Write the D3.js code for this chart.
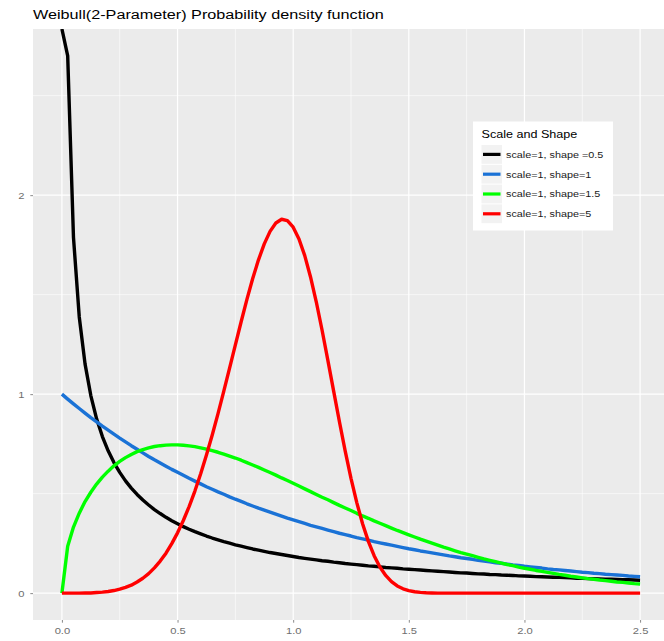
<!DOCTYPE html>
<html>
<head>
<meta charset="utf-8">
<script src="https://cdn.jsdelivr.net/npm/d3@7"></script>
<style>
  html, body { margin: 0; padding: 0; background: #ffffff; }
  svg { display: block; }
  text { font-family: "Liberation Sans", Arial, Helvetica, sans-serif; }
</style>
</head>
<body>
<svg id="chart" width="664" height="641"></svg>
<script>
// Sampling grid (x) and Weibull densities, scale = 1
const xs = [0,0.025,0.05,0.075,0.1,0.125,0.15,0.175,0.2,0.225,0.25,0.275,0.3,0.325,0.35,0.375,0.4,0.425,0.45,0.475,
  0.5,0.525,0.55,0.575,0.6,0.625,0.65,0.675,0.7,0.725,0.75,0.775,0.8,0.825,0.85,0.875,0.9,0.925,0.95,0.975,
  1,1.025,1.05,1.075,1.1,1.125,1.15,1.175,1.2,1.225,1.25,1.275,1.3,1.325,1.35,1.375,1.4,1.425,1.45,1.475,
  1.5,1.525,1.55,1.575,1.6,1.625,1.65,1.675,1.7,1.725,1.75,1.775,1.8,1.825,1.85,1.875,1.9,1.925,1.95,1.975,
  2,2.025,2.05,2.075,2.1,2.125,2.15,2.175,2.2,2.225,2.25,2.275,2.3,2.325,2.35,2.375,2.4,2.425,2.45,2.475,2.5];

// shape = 0.5 (density is unbounded at x = 0)
const shape05 = [Infinity,2.700,1.788,1.388,1.152,0.993,0.876,0.787,0.715,0.656,0.607,0.564,0.528,0.496,0.468,0.443,0.420,0.400,0.381,0.364,
  0.349,0.334,0.321,0.309,0.298,0.287,0.277,0.268,0.259,0.251,0.243,0.236,0.229,0.222,0.216,0.210,0.204,0.199,0.194,0.189,
  0.184,0.179,0.175,0.171,0.167,0.163,0.160,0.156,0.153,0.149,0.146,0.143,0.140,0.137,0.135,0.132,0.129,0.127,0.125,0.122,
  0.120,0.118,0.116,0.114,0.112,0.110,0.108,0.106,0.104,0.102,0.101,0.099,0.097,0.096,0.094,0.093,0.091,0.090,0.089,0.087,
  0.086,0.085,0.083,0.082,0.081,0.080,0.079,0.078,0.077,0.075,0.074,0.073,0.072,0.071,0.070,0.070,0.069,0.068,0.067,0.066,0.065];

// shape = 1
const shape1 = [1.000,0.975,0.951,0.928,0.905,0.882,0.861,0.839,0.819,0.799,0.779,0.760,0.741,0.723,0.705,0.687,0.670,0.654,0.638,0.622,
  0.607,0.592,0.577,0.563,0.549,0.535,0.522,0.509,0.497,0.484,0.472,0.461,0.449,0.438,0.427,0.417,0.407,0.397,0.387,0.377,
  0.368,0.359,0.350,0.341,0.333,0.325,0.317,0.309,0.301,0.294,0.287,0.279,0.273,0.266,0.259,0.253,0.247,0.241,0.235,0.229,
  0.223,0.218,0.212,0.207,0.202,0.197,0.192,0.187,0.183,0.178,0.174,0.170,0.165,0.161,0.157,0.153,0.150,0.146,0.142,0.139,
  0.135,0.132,0.129,0.126,0.122,0.119,0.117,0.114,0.111,0.108,0.105,0.103,0.100,0.098,0.095,0.093,0.091,0.089,0.086,0.084,0.082];

// shape = 1.5
const shape15 = [0,0.236,0.332,0.402,0.460,0.507,0.548,0.583,0.613,0.640,0.662,0.681,0.697,0.711,0.721,0.730,0.737,0.741,0.744,0.745,
  0.745,0.743,0.740,0.736,0.730,0.724,0.716,0.708,0.699,0.689,0.679,0.668,0.656,0.644,0.632,0.619,0.606,0.593,0.579,0.566,
  0.552,0.538,0.524,0.510,0.496,0.482,0.469,0.455,0.441,0.428,0.415,0.401,0.388,0.376,0.363,0.351,0.339,0.327,0.315,0.304,
  0.293,0.282,0.271,0.261,0.251,0.241,0.231,0.222,0.213,0.204,0.196,0.188,0.180,0.172,0.165,0.158,0.151,0.144,0.138,0.131,
  0.125,0.120,0.114,0.109,0.104,0.099,0.094,0.090,0.085,0.081,0.077,0.073,0.070,0.066,0.063,0.060,0.056,0.054,0.051,0.048,0.046];

// shape = 5
const shape5 = [0,0.000,0.000,0.000,0.001,0.001,0.003,0.005,0.008,0.013,0.020,0.029,0.040,0.056,0.075,0.098,0.127,0.161,0.201,0.249,
  0.303,0.365,0.435,0.513,0.600,0.694,0.795,0.902,1.015,1.131,1.248,1.364,1.476,1.581,1.675,1.755,1.818,1.860,1.879,1.872,
  1.839,1.780,1.696,1.589,1.463,1.321,1.170,1.015,0.861,0.714,0.577,0.455,0.349,0.260,0.188,0.131,0.089,0.058,0.036,0.022,
  0.013,0.007,0.004,0.002,0.001,0.000,0.000,0.000,0.000,0.000,0.000,0.000,0.000,0.000,0.000,0.000,0.000,0.000,0.000,0.000,
  0.000,0.000,0.000,0.000,0.000,0.000,0.000,0.000,0.000,0.000,0.000,0.000,0.000,0.000,0.000,0.000,0.000,0.000,0.000,0.000,0.000];

const seriesLabels = ["scale=1, shape =0.5", "scale=1, shape=1", "scale=1, shape=1.5", "scale=1, shape=5"];
const seriesColors = ["#000000", "#1a72d6", "#00ff00", "#ff0000"];
const seriesValues = [shape05, shape1, shape15, shape5];

const xTicks = [0, 0.5, 1, 1.5, 2, 2.5];
const xMinor = [0.25, 0.75, 1.25, 1.75, 2.25];
const yTicks = [0, 1, 2];
const yMinor = [0.5, 1.5, 2.5];

const titleText = "Weibull(2-Parameter) Probability density function";
const legendTitle = "Scale and Shape";

// Layout
const panel = { left: 33, top: 29, right: 669, bottom: 620 };
const SX = 1.2; // horizontal stretch of lettering

const svg = d3.select("#chart");

// ggplot-like 5% expansion on both axes
const xExt = d3.extent(xs);
const xPad = (xExt[1] - xExt[0]) * 0.05;
const allY = seriesValues.flat().filter(Number.isFinite);
const yExt = d3.extent(allY);
const yPad = (yExt[1] - yExt[0]) * 0.05;

const x = d3.scaleLinear().domain([xExt[0] - xPad, xExt[1] + xPad]).range([panel.left, panel.right]);
const y = d3.scaleLinear().domain([yExt[0] - yPad, yExt[1] + yPad]).range([panel.bottom, panel.top]);

// Panel background
svg.append("rect")
  .attr("x", panel.left).attr("y", panel.top)
  .attr("width", panel.right - panel.left).attr("height", panel.bottom - panel.top)
  .attr("fill", "#ebebeb");

const grid = svg.append("g");
grid.selectAll("line.xminor").data(xMinor).join("line")
  .attr("x1", d => x(d)).attr("x2", d => x(d)).attr("y1", panel.top).attr("y2", panel.bottom)
  .attr("stroke", "#ffffff").attr("stroke-width", 0.6);
grid.selectAll("line.yminor").data(yMinor).join("line")
  .attr("y1", d => y(d)).attr("y2", d => y(d)).attr("x1", panel.left).attr("x2", panel.right)
  .attr("stroke", "#ffffff").attr("stroke-width", 0.6);
grid.selectAll("line.xmajor").data(xTicks).join("line")
  .attr("x1", d => x(d)).attr("x2", d => x(d)).attr("y1", panel.top).attr("y2", panel.bottom)
  .attr("stroke", "#ffffff").attr("stroke-width", 1.2);
grid.selectAll("line.ymajor").data(yTicks).join("line")
  .attr("y1", d => y(d)).attr("y2", d => y(d)).attr("x1", panel.left).attr("x2", panel.right)
  .attr("stroke", "#ffffff").attr("stroke-width", 1.2);

// Curves (infinite values sit on the panel edge)
svg.append("clipPath").attr("id", "clip").append("rect")
  .attr("x", panel.left).attr("y", panel.top)
  .attr("width", panel.right - panel.left).attr("height", panel.bottom - panel.top);

const line = d3.line()
  .x(d => x(d[0]))
  .y(d => Number.isFinite(d[1]) ? y(d[1]) : (d[1] > 0 ? panel.top : panel.bottom));

const curves = svg.append("g").attr("clip-path", "url(#clip)");
seriesValues.forEach((vals, i) => {
  curves.append("path")
    .datum(xs.map((xv, j) => [xv, vals[j]]))
    .attr("d", line)
    .attr("fill", "none")
    .attr("stroke", seriesColors[i])
    .attr("stroke-width", 3.4)
    .attr("stroke-linejoin", "round")
    .attr("stroke-linecap", "butt");
});

// Axes
const xAxis = svg.append("g")
  .attr("transform", `translate(0,${panel.bottom})`)
  .call(d3.axisBottom(x).tickValues(xTicks).tickFormat(d3.format(".1f")).tickSize(2.7));
const yAxis = svg.append("g")
  .attr("transform", `translate(${panel.left},0)`)
  .call(d3.axisLeft(y).tickValues(yTicks).tickFormat(d3.format("d")).tickSize(2.7));

[xAxis, yAxis].forEach(a => {
  a.select(".domain").remove();
  a.selectAll(".tick line").attr("stroke", "#8a8a8a").attr("stroke-width", 1);
  a.selectAll(".tick text")
    .attr("fill", "#6e6e6e")
    .style("font-size", "9.3px")
    .style("font-family", "'Liberation Sans', Arial, sans-serif");
});
xAxis.selectAll(".tick text").attr("y", 14).attr("dy", null)
  .attr("transform", `scale(${SX},1)`);
yAxis.selectAll(".tick text").attr("x", -8.5 / SX).attr("dy", "0.35em")
  .attr("transform", `scale(${SX},1)`);

// Stretched text helper
function stretchedText(parent, px, py, txt, size, fill, anchor) {
  return parent.append("text")
    .attr("transform", `translate(${px},${py}) scale(${SX},1)`)
    .attr("text-anchor", anchor || "start")
    .style("font-size", size + "px")
    .attr("fill", fill)
    .text(txt);
}

// Title
stretchedText(svg, 33, 18.5, titleText, 13.5, "#000000");

// Legend
const lg = svg.append("g");
const lgBox = { x: 473, y: 121.5, w: 140, h: 109 };
lg.append("rect")
  .attr("x", lgBox.x).attr("y", lgBox.y).attr("width", lgBox.w).attr("height", lgBox.h)
  .attr("fill", "#ffffff");
stretchedText(lg, 481.5, 138, legendTitle, 10.5, "#000000");

const keyX = 481.5, keyW = 20.5, keyH = 19.8, keyTop = 144.5;
seriesLabels.forEach((lab, i) => {
  const ky = keyTop + i * keyH;
  lg.append("rect")
    .attr("x", keyX).attr("y", ky + 0.5).attr("width", keyW).attr("height", keyH - 1)
    .attr("fill", "#f2f2f2");
  lg.append("line")
    .attr("x1", keyX + 1.5).attr("x2", keyX + keyW - 1.5)
    .attr("y1", ky + keyH / 2).attr("y2", ky + keyH / 2)
    .attr("stroke", seriesColors[i]).attr("stroke-width", 3.2);
  stretchedText(lg, 506, ky + keyH / 2 + 3.3, lab, 9, "#1a1a1a");
});
</script>
</body>
</html>
